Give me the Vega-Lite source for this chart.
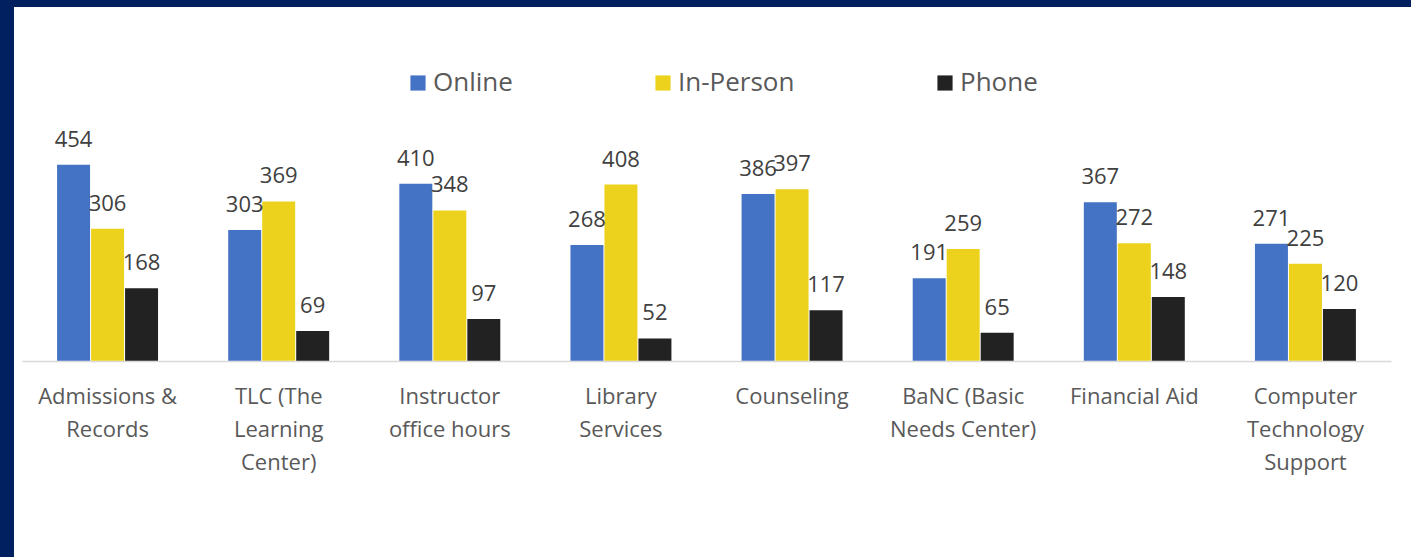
{
  "$schema": "https://vega.github.io/schema/vega-lite/v6.json",
  "width": 1411,
  "height": 557,
  "autosize": {"type": "fit", "contains": "padding"},
  "padding": {"left": 14, "top": 7, "right": 0, "bottom": 0},
  "background": "#00205F",
  "config": {
    "view": {"fill": "white", "stroke": null},
    "font": "Open Sans"
  },
  "data": {
    "values": [
      {"service": "Admissions & Records", "mode": "Online", "count": 454},
      {"service": "Admissions & Records", "mode": "In-Person", "count": 306},
      {"service": "Admissions & Records", "mode": "Phone", "count": 168},
      {"service": "TLC (The Learning Center)", "mode": "Online", "count": 303},
      {"service": "TLC (The Learning Center)", "mode": "In-Person", "count": 369},
      {"service": "TLC (The Learning Center)", "mode": "Phone", "count": 69},
      {"service": "Instructor office hours", "mode": "Online", "count": 410},
      {"service": "Instructor office hours", "mode": "In-Person", "count": 348},
      {"service": "Instructor office hours", "mode": "Phone", "count": 97},
      {"service": "Library Services", "mode": "Online", "count": 268},
      {"service": "Library Services", "mode": "In-Person", "count": 408},
      {"service": "Library Services", "mode": "Phone", "count": 52},
      {"service": "Counseling", "mode": "Online", "count": 386},
      {"service": "Counseling", "mode": "In-Person", "count": 397},
      {"service": "Counseling", "mode": "Phone", "count": 117},
      {"service": "BaNC (Basic Needs Center)", "mode": "Online", "count": 191},
      {"service": "BaNC (Basic Needs Center)", "mode": "In-Person", "count": 259},
      {"service": "BaNC (Basic Needs Center)", "mode": "Phone", "count": 65},
      {"service": "Financial Aid", "mode": "Online", "count": 367},
      {"service": "Financial Aid", "mode": "In-Person", "count": 272},
      {"service": "Financial Aid", "mode": "Phone", "count": 148},
      {"service": "Computer Technology Support", "mode": "Online", "count": 271},
      {"service": "Computer Technology Support", "mode": "In-Person", "count": 225},
      {"service": "Computer Technology Support", "mode": "Phone", "count": 120}
    ]
  },
  "encoding": {
    "x": {
      "field": "service",
      "type": "nominal",
      "sort": null,
      "scale": {"range": [8, 1377], "paddingInner": 0.41, "paddingOuter": 0.205},
      "axis": {
        "title": null,
        "orient": "bottom",
        "offset": -196,
        "labelAngle": 0,
        "ticks": false,
        "domainColor": "#D9D9D9",
        "domainWidth": 1.5,
        "labelFont": "Open Sans",
        "labelFontSize": 22,
        "labelColor": "#595959",
        "labelLineHeight": 33,
        "labelBaseline": "top",
        "labelPadding": 25,
        "labelLimit": 300,
        "labelExpr": "datum.label == 'Admissions & Records' ? ['Admissions &', 'Records'] : datum.label == 'TLC (The Learning Center)' ? ['TLC (The', 'Learning', 'Center)'] : datum.label == 'Instructor office hours' ? ['Instructor', 'office hours'] : datum.label == 'Library Services' ? ['Library', 'Services'] : datum.label == 'BaNC (Basic Needs Center)' ? ['BaNC (Basic', 'Needs Center)'] : datum.label == 'Computer Technology Support' ? ['Computer', 'Technology', 'Support'] : datum.label"
      }
    },
    "xOffset": {
      "field": "mode",
      "type": "nominal",
      "sort": ["Online", "In-Person", "Phone"],
      "scale": {"paddingInner": 0.03, "paddingOuter": 0}
    },
    "y": {
      "field": "count",
      "type": "quantitative",
      "scale": {"domain": [-454, 819], "nice": false, "zero": false},
      "axis": null
    }
  },
  "layer": [
    {
      "mark": {"type": "bar"},
      "encoding": {
        "y2": {"datum": 0},
        "color": {
          "field": "mode",
          "type": "nominal",
          "scale": {"domain": ["Online", "In-Person", "Phone"], "range": ["#4472C4", "#EDD21D", "#222222"]},
          "legend": {
            "title": null,
            "orient": "none",
            "direction": "horizontal",
            "legendX": 391,
            "legendY": 63,
            "padding": 0,
            "symbolType": "square",
            "symbolSize": 230,
            "symbolStrokeWidth": 0,
            "labelFont": "Open Sans",
            "labelFontSize": 26,
            "labelColor": "#595959",
            "labelOffset": 2,
            "columnPadding": 137
          }
        }
      }
    },
    {
      "mark": {"type": "text", "baseline": "alphabetic", "dy": -18, "font": "Open Sans", "fontSize": 22, "color": "#404040"},
      "encoding": {
        "text": {"field": "count", "type": "quantitative"}
      }
    }
  ]
}
